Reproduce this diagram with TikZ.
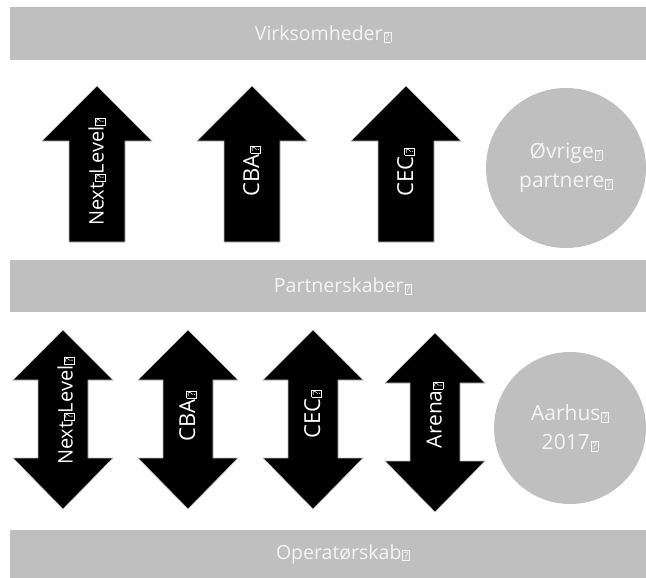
\documentclass[tikz,border=0pt]{standalone}
\usepackage{fontspec}
\setmainfont{Open Sans}
\usepackage{tikz}
\usetikzlibrary{calc,positioning}

\definecolor{barGray}{HTML}{BFBFBF}
\definecolor{txtWhite}{HTML}{F4F4F4}
% box that stands in for the missing glyph
\newcommand{\unk}{\kern1pt{\fboxsep=1pt\fboxrule=0.6pt\fbox{\fontsize{10}{10}\selectfont ?}}}
\newcommand{\fs}[2][0]{\fontsize{#2}{\dimexpr#2pt+#1pt\relax}\selectfont}

\tikzset{
  bar/.style={fill=barGray},
  bartext/.style={text=txtWhite,font=\fs{19.5}},
  arrowbody/.style={fill=black,draw=gray!50,line width=0.6pt},
  arrowtext/.style={rotate=90,text=white,inner sep=0pt},
  blob/.style={circle,fill=barGray,text=txtWhite,align=center,font=\fs[8]{21},inner sep=0pt}
}

\begin{document}
\begin{tikzpicture}[x=1pt,y=-1pt]
\useasboundingbox (0,0) rectangle (646,578);

% grey bands
\fill[bar] (10,7) rectangle (646,60);
\fill[bar] (10,260) rectangle (646,312);
\fill[bar] (10,530) rectangle (646,578);
\node[bartext] (virk) at (323,34) {Virksomheder\unk};
\node[bartext] (partner) at (343,286) {Partnerskaber\unk};
\node[bartext] (operator) at (343,554) {Operatørskab\unk};

% single arrows (top row)
\foreach \cx in {97,252,406}{
  \filldraw[arrowbody] (\cx,86) -- (\cx+55,141) -- (\cx+28,141) -- (\cx+28,242)
    -- (\cx-28,242) -- (\cx-28,141) -- (\cx-55,141) -- cycle;
}
\node[arrowtext,font=\fs{20}] (upNext) at (97,172) {Next\unk Level\unk};
\node[arrowtext,font=\fs{22}] (upCBA) at (252,171) {CBA\unk};
\node[arrowtext,font=\fs{22}] (upCEC) at (406,172) {CEC\unk};

\node[blob,minimum size=160pt] (ovrige) at (566,168) {Øvrige\unk\\partnere\unk};

% double arrows (bottom row)
\foreach \cx/\ty in {63/330,188/330,313/330,435/333}{
  \filldraw[arrowbody] (\cx,\ty) -- (\cx+50,\ty+50) -- (\cx+25,\ty+50) -- (\cx+25,\ty+128)
    -- (\cx+50,\ty+128) -- (\cx,\ty+179) -- (\cx-50,\ty+128) -- (\cx-25,\ty+128)
    -- (\cx-25,\ty+50) -- (\cx-50,\ty+50) -- cycle;
}
\node[arrowtext,font=\fs{20}] (dnNext) at (66,411) {Next\unk Level\unk};
\node[arrowtext,font=\fs{22}] (dnCBA) at (188,416) {CBA\unk};
\node[arrowtext,font=\fs{22}] (dnCEC) at (313,414) {CEC\unk};
\node[arrowtext,font=\fs{21}] (dnArena) at (435,415) {Arena\unk};

\node[blob,minimum size=152pt] (aarhus) at (570,428) {Aarhus\unk\\2017\unk};
\end{tikzpicture}
\end{document}
